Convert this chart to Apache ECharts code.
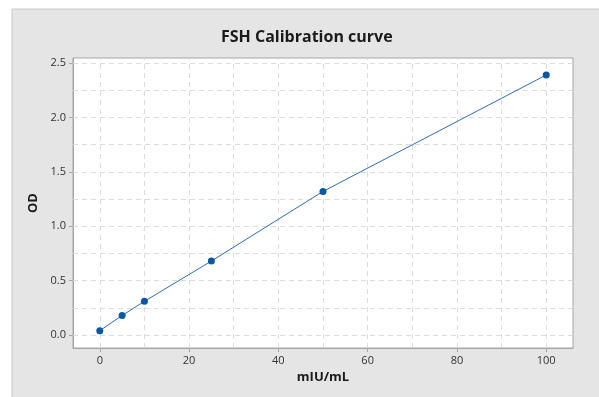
<!DOCTYPE html>
<html>
<head>
<meta charset="utf-8">
<script src="https://cdn.jsdelivr.net/npm/echarts@6/dist/echarts.min.js"></script>
<style>
  html, body { margin: 0; padding: 0; background: #fff; }
  #main { width: 599px; height: 397px; }
</style>
</head>
<body>
<div id="main"></div>
<script>
// calibration standards
const conc = [0, 5, 10, 25, 50, 100];
const od = [0.04, 0.18, 0.31, 0.68, 1.32, 2.39];
const xTicks = [0, 20, 40, 60, 80, 100];
const yTicks = [0, 0.5, 1.0, 1.5, 2.0, 2.5];
const xGrid = [0, 10, 20, 30, 40, 50, 60, 70, 80, 90, 100];
const yGrid = [0, 0.25, 0.5, 0.75, 1.0, 1.25, 1.5, 1.75, 2.0, 2.25, 2.5];

const chart = echarts.init(document.getElementById('main'));
const gridLine = { color: '#dcdcdc', type: [5, 4], width: 1 };

const option = {
    animation: false,
    textStyle: { fontFamily: 'Open Sans' },
    graphic: [{
        type: 'rect', z: -10,
        shape: { x: 12, y: 9, width: 600, height: 400 },
        style: { fill: '#e5e5e5', stroke: '#c8c8c8', lineWidth: 1 }
    }],
    title: {
        text: 'FSH Calibration curve',
        left: 216, top: 24,
        textStyle: { fontSize: 16, fontWeight: 'bold', color: '#1a1a1a', fontFamily: 'Open Sans' }
    },
    grid: {
        left: 73, top: 58, right: 26, bottom: 49,
        show: true, backgroundColor: '#fff', borderColor: '#a6a6a6', borderWidth: 1
    },
    xAxis: {
        type: 'value', min: -6, max: 106,
        name: 'mIU/mL', nameLocation: 'middle', nameGap: 22,
        nameTextStyle: { fontSize: 13, fontWeight: 'bold', color: '#1a1a1a' },
        axisLine: { show: true, onZero: false, lineStyle: { color: '#a6a6a6' } },
        axisTick: { show: true, customValues: xTicks, length: 4, lineStyle: { color: '#a6a6a6' } },
        axisLabel: { customValues: xTicks, fontSize: 11, color: '#333', margin: 7 },
        splitLine: { show: false }
    },
    yAxis: {
        type: 'value', min: -0.119, max: 2.546,
        name: 'OD', nameLocation: 'middle', nameGap: 30, nameRotate: 90,
        nameTextStyle: { fontSize: 13, fontWeight: 'bold', color: '#1a1a1a' },
        axisLine: { show: true, onZero: false, lineStyle: { color: '#a6a6a6' } },
        axisTick: { show: true, customValues: yTicks, length: 4, lineStyle: { color: '#a6a6a6' } },
        axisLabel: {
            customValues: yTicks, fontSize: 11, color: '#333', margin: 7,
            formatter: v => v.toFixed(1)
        },
        splitLine: { show: false }
    },
    series: [{
        // dashed reference grid
        type: 'line', data: [], z: 0, silent: true,
        markLine: {
            silent: true, symbol: 'none', label: { show: false },
            lineStyle: gridLine, animation: false,
            data: xGrid.map(v => ({ xAxis: v })).concat(yGrid.map(v => ({ yAxis: v })))
        }
    }, {
        type: 'line', z: 10,
        data: conc.map((c, i) => [c, od[i]]),
        symbol: 'circle', symbolSize: 7,
        lineStyle: { color: '#2f6db5', width: 1 },
        itemStyle: { color: '#0b56a6' }
    }]
};
chart.setOption(option);
</script>
</body>
</html>
